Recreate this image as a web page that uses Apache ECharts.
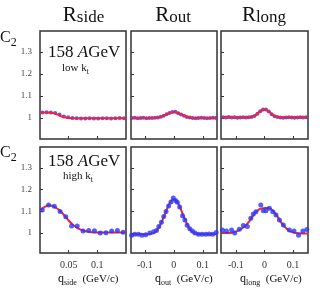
<!DOCTYPE html>
<html><head><meta charset="utf-8">
<script src="https://cdn.jsdelivr.net/npm/echarts@6/dist/echarts.min.js"></script>
<style>html,body{margin:0;padding:0;background:#fff}#c{width:327px;height:288px}</style>
</head><body><div id="c"></div>
<script>
// ---- data (q in GeV/c, C2) ----
const sideLowPts = [[0.004,1.025],[0.0115,1.026],[0.019,1.025],[0.0265,1.023],[0.034,1.016],[0.0415,1.007],[0.049,1.003],[0.0565,1.0],[0.064,0.999],[0.0715,0.998],[0.079,0.998],[0.0865,0.999],[0.094,0.998],[0.1015,0.998],[0.109,0.999],[0.1165,0.999],[0.124,0.998],[0.1315,0.999],[0.139,1.0],[0.1465,0.999]];
const sideLowFit = [[0,1.025],[0.01,1.025],[0.02,1.024],[0.025,1.021],[0.03,1.016],[0.035,1.01],[0.04,1.005],[0.045,1.002],[0.05,1.0],[0.06,0.999],[0.08,0.999],[0.1,0.999],[0.12,0.999],[0.15,0.999]];
const outLowPts = [[-0.145,1.0],[-0.135,1.001],[-0.125,0.999],[-0.115,1.0],[-0.105,1.001],[-0.095,0.999],[-0.085,1.0],[-0.075,1.0],[-0.065,1.001],[-0.055,1.002],[-0.045,1.005],[-0.035,1.01],[-0.025,1.017],[-0.015,1.023],[-0.005,1.027],[0.005,1.028],[0.015,1.022],[0.025,1.016],[0.035,1.01],[0.045,1.004],[0.055,1.002],[0.065,1.0],[0.075,0.999],[0.085,1.0],[0.095,1.001],[0.105,1.0],[0.115,0.999],[0.125,1.0],[0.135,1.001],[0.145,1.0]];
const outLowFit = [[-0.15,1.0],[-0.07,1.0],[-0.06,1.001],[-0.05,1.003],[-0.04,1.008],[-0.03,1.014],[-0.02,1.02],[-0.01,1.025],[0,1.027],[0.01,1.025],[0.02,1.02],[0.03,1.014],[0.04,1.008],[0.05,1.003],[0.06,1.001],[0.07,1.0],[0.15,1.0]];
const longLowPts = [[-0.145,1.003],[-0.135,1.002],[-0.125,1.004],[-0.115,1.002],[-0.105,1.003],[-0.095,1.001],[-0.085,1.002],[-0.075,1.003],[-0.065,1.002],[-0.055,1.003],[-0.045,1.004],[-0.035,1.009],[-0.025,1.019],[-0.015,1.03],[-0.005,1.039],[0.005,1.038],[0.015,1.029],[0.025,1.017],[0.035,1.008],[0.045,1.004],[0.055,1.002],[0.065,1.001],[0.075,1.002],[0.085,1.003],[0.095,1.002],[0.105,1.001],[0.115,1.002],[0.125,1.003],[0.135,1.002],[0.145,1.003]];
const longLowFit = [[-0.15,1.002],[-0.06,1.002],[-0.05,1.004],[-0.04,1.007],[-0.03,1.014],[-0.02,1.024],[-0.01,1.034],[0,1.039],[0.01,1.034],[0.02,1.024],[0.03,1.014],[0.04,1.007],[0.05,1.004],[0.06,1.002],[0.15,1.002]];

const sideHighPts = [[0.004,1.106],[0.015,1.13],[0.025,1.124],[0.035,1.1],[0.045,1.075],[0.055,1.032],[0.065,1.032],[0.075,1.01],[0.085,1.012],[0.095,1.011],[0.105,1.0],[0.115,1.001],[0.125,1.01],[0.135,1.012],[0.145,1.004]];
const sideHighFit = [[0,1.105],[0.005,1.115],[0.01,1.123],[0.015,1.127],[0.02,1.126],[0.025,1.121],[0.03,1.113],[0.035,1.102],[0.04,1.089],[0.045,1.074],[0.05,1.058],[0.055,1.044],[0.06,1.033],[0.065,1.024],[0.07,1.017],[0.08,1.008],[0.09,1.004],[0.1,1.002],[0.12,1.002],[0.15,1.003]];
const outHighPts = [[-0.146,0.99],[-0.135,0.995],[-0.122,0.994],[-0.11,0.99],[-0.097,0.992],[-0.083,1.0],[-0.07,1.006],[-0.06,1.012],[-0.052,1.03],[-0.043,1.05],[-0.035,1.076],[-0.027,1.1],[-0.018,1.125],[-0.01,1.143],[-0.002,1.162],[0.006,1.15],[0.012,1.142],[0.02,1.12],[0.03,1.08],[0.038,1.06],[0.046,1.036],[0.055,1.02],[0.064,1.01],[0.073,1.0],[0.085,0.994],[0.097,0.995],[0.11,0.994],[0.122,0.996],[0.134,0.994],[0.146,1.003]];
const outHighFit = [[-0.15,0.995],[-0.09,0.995],[-0.08,0.997],[-0.07,1.0],[-0.06,1.01],[-0.05,1.03],[-0.04,1.058],[-0.03,1.09],[-0.02,1.122],[-0.01,1.146],[0,1.155],[0.01,1.146],[0.02,1.122],[0.03,1.09],[0.04,1.058],[0.05,1.03],[0.06,1.01],[0.07,1.0],[0.08,0.997],[0.09,0.995],[0.15,0.995]];
const longHighPts = [[-0.147,1.014],[-0.133,1.009],[-0.115,1.014],[-0.104,1.0],[-0.088,1.017],[-0.074,1.035],[-0.06,1.03],[-0.048,1.068],[-0.039,1.088],[-0.03,1.098],[-0.013,1.129],[-0.004,1.103],[0.005,1.103],[0.017,1.114],[0.029,1.098],[0.04,1.083],[0.052,1.06],[0.066,1.037],[0.087,1.014],[0.103,1.01],[0.119,0.99],[0.134,1.01],[0.148,1.016]];
const longHighFit = [[-0.15,1.0],[-0.13,1.0],[-0.11,1.003],[-0.09,1.012],[-0.07,1.03],[-0.05,1.06],[-0.04,1.08],[-0.03,1.097],[-0.02,1.108],[-0.01,1.114],[0,1.116],[0.01,1.116],[0.02,1.113],[0.03,1.102],[0.04,1.087],[0.05,1.066],[0.06,1.046],[0.07,1.03],[0.08,1.017],[0.09,1.008],[0.11,1.0],[0.13,0.998],[0.15,0.998]];

const yTicks = [1, 1.1, 1.2, 1.3];
const sideTicks = [0.05, 0.1];
const outTicks = [-0.1, 0, 0.1];
const longTicks = [-0.1, 0, 0.1];

const panels = [
  {pts: sideLowPts, fit: sideLowFit, xt: sideTicks, xmin: 0, xmax: 0.15},
  {pts: outLowPts, fit: outLowFit, xt: outTicks, xmin: -0.148, xmax: 0.149},
  {pts: longLowPts, fit: longLowFit, xt: longTicks, xmin: -0.152, xmax: 0.152},
  {pts: sideHighPts, fit: sideHighFit, xt: sideTicks, xmin: 0, xmax: 0.15},
  {pts: outHighPts, fit: outHighFit, xt: outTicks, xmin: -0.148, xmax: 0.149},
  {pts: longHighPts, fit: longHighFit, xt: longTicks, xmin: -0.152, xmax: 0.152}
];

const SERIF = '"Liberation Serif","DejaVu Serif",serif';
const colLeft = [40, 131, 221], colW = [86, 86, 87];
const rowTop = [31, 147], rowH = [108, 106];
const rowMin = [0.9045, 0.908], rowMax = [1.395, 1.397];
const BLUE = '#2838ff', RED = '#ff1f2a';

const grid = [], xAxis = [], yAxis = [], series = [];
panels.forEach((p, i) => {
  const r = Math.floor(i / 3), c = i % 3;
  grid.push({left: colLeft[c], top: rowTop[r], width: colW[c], height: rowH[r], show: true, borderColor: '#333', borderWidth: 1.5, backgroundColor: '#fff'});
  xAxis.push({type: 'value', gridIndex: i, min: p.xmin, max: p.xmax, position: 'bottom', splitLine: {show: false}, axisLine: {show: false, onZero: false},
    axisTick: {show: true, inside: true, length: 3, customValues: p.xt, lineStyle: {color: '#333'}},
    axisLabel: {show: r === 1, customValues: p.xt, margin: 7, fontFamily: SERIF, fontSize: 10, color: '#333', formatter: v => String(v)}});
  yAxis.push({type: 'value', gridIndex: i, min: rowMin[r], max: rowMax[r], position: 'left', splitLine: {show: false}, axisLine: {show: false, onZero: false},
    axisTick: {show: true, inside: true, length: 3, customValues: yTicks, lineStyle: {color: '#333'}},
    axisLabel: {show: c === 0, customValues: yTicks, margin: 8, fontFamily: SERIF, fontSize: 9, color: '#444', formatter: v => String(v)}});
  const sc = {type: 'scatter', xAxisIndex: i, yAxisIndex: i, data: p.pts, symbolSize: r === 0 ? 4 : 5, itemStyle: {color: BLUE}, silent: true, z: r === 0 ? 2 : 4};
  const ln = {type: 'line', xAxisIndex: i, yAxisIndex: i, data: p.fit, smooth: true, showSymbol: false, lineStyle: {color: RED, width: 2}, silent: true, z: 3};
  series.push(sc, ln);
});

// text helpers: place pieces on a common baseline, measuring widths
const mctx = document.createElement('canvas').getContext('2d');
function fnt(size, italic) { return (italic ? 'italic ' : '') + size + 'px ' + SERIF; }
function width(text, size, italic) { mctx.font = fnt(size, italic); return mctx.measureText(text).width; }
// pieces: [text, size, dy(baseline shift), italic]
function line(x, baseline, pieces, align) {
  let total = 0;
  pieces.forEach(p => total += width(p[0], p[1], p[3]));
  let cx = align === 'center' ? x - total / 2 : x;
  const out = [];
  pieces.forEach(p => {
    const w = width(p[0], p[1], p[3]);
    out.push({type: 'text', x: cx, y: baseline + (p[2] || 0) - 0.34 * p[1],
      style: {text: p[0], font: fnt(p[1], p[3]), fill: '#111', textAlign: 'left', textVerticalAlign: 'middle'}});
    cx += w;
  });
  return out;
}

const graphic = [].concat(
  line(83.5, 23, [['R', 21], ['side', 17, 0.5]], 'center'),
  line(173, 23, [['R', 21], ['out', 17, 0.5]], 'center'),
  line(264, 23, [['R', 21], ['long', 17, 0.5]], 'center'),
  line(0, 43, [['C', 16], ['2', 12, 4]]),
  line(0, 158, [['C', 16], ['2', 12, 4]]),
  line(48, 58, [['158 ', 17], ['A', 17, 0, true], ['GeV', 17]]),
  line(62, 72, [['low k', 11], ['t', 8, 3]]),
  line(48, 167, [['158 ', 17], ['A', 17, 0, true], ['GeV', 17]]),
  line(63, 180, [['high k', 11], ['t', 8, 3]]),
  line(58, 283, [['q', 12], ['side', 8, 3], ['  (GeV/c)', 11]]),
  line(155, 283, [['q', 12], ['out', 8, 3], ['  (GeV/c)', 11]]),
  line(240, 283, [['q', 12], ['long', 8, 3], ['  (GeV/c)', 11]])
);

const chart = echarts.init(document.getElementById('c'), null, {renderer: 'canvas'});
chart.setOption({animation: false, backgroundColor: '#fff', grid, xAxis, yAxis, series, graphic});
</script>
</body></html>
